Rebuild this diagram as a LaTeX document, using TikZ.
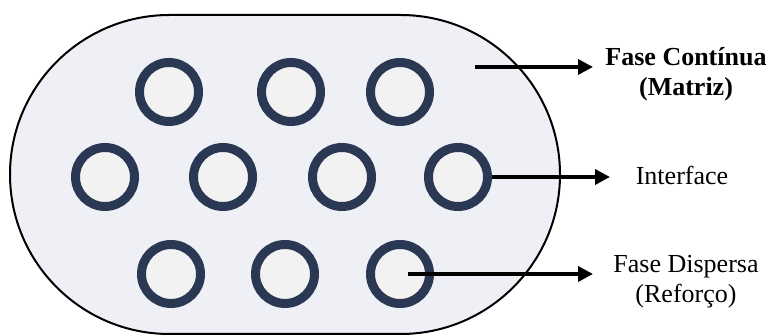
\documentclass[tikz,border=0pt]{standalone}
\usepackage{fontspec}
\setmainfont{Liberation Serif}
\usepackage{tikz}
\usetikzlibrary{arrows.meta}

\definecolor{matrizfill}{RGB}{238,240,245}
\definecolor{anel}{RGB}{43,56,84}
\definecolor{fibrafill}{RGB}{242,242,242}

\begin{document}
\begin{tikzpicture}[x=1pt, y=1pt,
    fibra/.style={circle, draw=anel, line width=9pt, fill=fibrafill,
      minimum size=59pt, inner sep=0pt},
    rotulo/.style={align=center, font=\fontsize{26}{30}\selectfont},
    seta/.style={-{Triangle[length=15pt, width=15pt]}, line width=3.5pt}
  ]
    \useasboundingbox (0,0) rectangle (771,336);

    % matriz (fase continua)
    \draw[line width=2pt, fill=matrizfill] (169.5,321) -- (400.5,321)
      arc[start angle=90, end angle=-90, radius=159.5] -- (169.5,2)
      arc[start angle=270, end angle=90, radius=159.5] -- cycle;

    % fibras
    \foreach \n/\x/\y in {1/169/244, 2/291/244, 3/400/244,
                          4/105/159, 5/223/159, 6/342/159, 7/458/159,
                          8/171/62, 9/285/62, 10/400/62} {
      \node[fibra] (f\n) at (\x,\y) {};
    }

    \node[rotulo] (matriz) at (686,262)
      {\textbf{Fase Contínua}\\\textbf{(Matriz)}};
    \node[rotulo] (interface) at (682,161) {Interface};
    \node[rotulo] (dispersa) at (686,54) {Fase Dispersa\\(Reforço)};

    \coordinate (m) at (475,269);
    \coordinate (t1) at (593,269);
    \coordinate (t2) at (610,159);
    \coordinate (t3) at (593,62);

    \draw[seta] (m) -- (t1);
    \draw[seta] (f7.east) -- (t2);
    \draw[seta] ([xshift=8pt]f10.center) -- (t3);
\end{tikzpicture}
\end{document}
